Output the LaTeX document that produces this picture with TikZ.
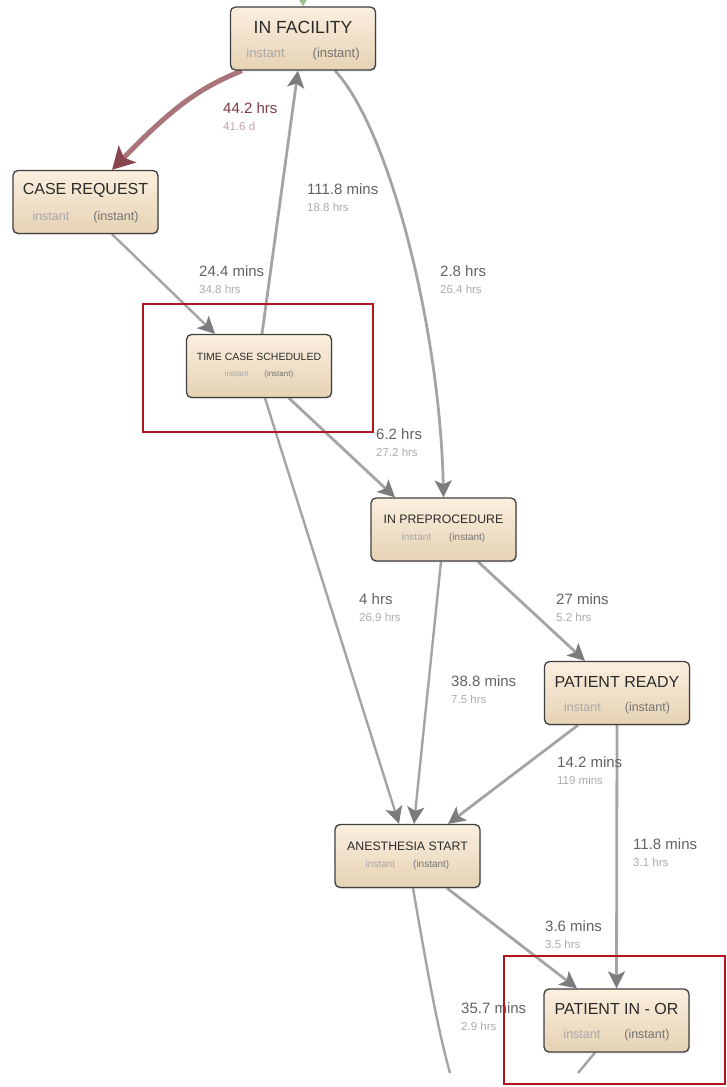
\documentclass[tikz,border=0pt]{standalone}
\usepackage{fontspec}
\setmainfont{Liberation Sans}
\usetikzlibrary{arrows.meta,shadows,backgrounds}
\definecolor{boxtop}{HTML}{FBEFDF}
\definecolor{boxbot}{HTML}{E6D2B4}
\definecolor{boxline}{HTML}{3F3F3F}
\definecolor{titlecol}{HTML}{2A2A2A}
\definecolor{subA}{HTML}{A8A8A8}
\definecolor{subB}{HTML}{747474}
\definecolor{edgegray}{HTML}{A4A4A4}
\definecolor{tipgray}{HTML}{7C7C7C}
\definecolor{redline}{HTML}{A9747A}
\definecolor{redtip}{HTML}{874650}
\definecolor{colmain}{HTML}{626262}
\definecolor{colsub}{HTML}{ABABAB}
\definecolor{colred}{HTML}{7B3B45}
\definecolor{colredsub}{HTML}{C6A2A8}
\definecolor{hilite}{HTML}{B3151D}
\definecolor{startgreen}{HTML}{9CC08A}
\newcommand{\stage}[5]{% name, position, title, size, gap
  \node[stagebox] (#1) at (#2) {};
  \node[#4 title] (#1-t) at (#1.center) {#3};
  \node[#4 sub] (#1-s) at (#1.center) {{\color{subA}instant}\hspace{#5}{\color{subB}(instant)}};
}
\newcommand{\edgelabel}[5]{% name, x, y, time, total
  \node[lbl] (#1) at (#2,#3) {#4};
  \node[lblsub] (#1s) at (#2,#3+18) {#5};
}

\begin{document}
\begin{tikzpicture}[x=1pt, y=-1pt,
    stagebox/.style={draw=boxline, line width=1.3pt, rounded corners=5pt,
      top color=boxtop, bottom color=boxbot, minimum width=145pt,
      minimum height=63pt, inner sep=0pt,
      drop shadow={shadow xshift=1pt, shadow yshift=-1.5pt, opacity=0.18}},
    top title/.style={font=\fontsize{17.6}{17.6}\selectfont, text=titlecol, yshift=11.5pt, inner sep=0pt},
    top sub/.style={font=\fontsize{13}{13}\selectfont, yshift=-16pt, inner sep=0pt},
    big title/.style={font=\fontsize{16}{16}\selectfont, text=titlecol, yshift=11.5pt, inner sep=0pt},
    big sub/.style={font=\fontsize{12.5}{12.5}\selectfont, yshift=-15pt, inner sep=0pt},
    mid title/.style={font=\fontsize{12.3}{12.3}\selectfont, text=titlecol, yshift=10pt, inner sep=0pt},
    mid sub/.style={font=\fontsize{10}{10}\selectfont, yshift=-8.5pt, inner sep=0pt},
    small title/.style={font=\fontsize{10.5}{10.5}\selectfont, text=titlecol, yshift=9.3pt, inner sep=0pt},
    small sub/.style={font=\fontsize{8}{8}\selectfont, yshift=-8pt, inner sep=0pt},
    lbl/.style={anchor=west, inner sep=0pt, text=colmain, font=\fontsize{15}{15}\selectfont},
    lblsub/.style={anchor=west, inner sep=0pt, text=colsub, font=\fontsize{11.5}{12}\selectfont},
    flow/.style={draw=edgegray, line width=2.8pt,
      -{Stealth[length=17pt, width=17pt, inset=4pt, color=tipgray]}},
    lightflow/.style={flow, line width=2.4pt},
    hot/.style={draw=redline, line width=5pt,
      -{Stealth[length=22pt, width=24pt, inset=5pt, color=redtip]}},
    hilitebox/.style={draw=hilite, line width=1.8pt}]
\clip (0,0) rectangle (726,1087);

% stages
\stage{fac}{303,38.5}{IN FACILITY}{top}{28pt}
\stage{req}{85.5,202}{CASE REQUEST}{big}{24pt}
\stage{sch}{259,366}{TIME CASE SCHEDULED}{small}{16pt}
\stage{pre}{443.5,529.5}{IN PREPROCEDURE}{mid}{18pt}
\stage{rdy}{617,693}{PATIENT READY}{big}{24pt}
\stage{ane}{407.5,856}{ANESTHESIA START}{mid}{18pt}
\stage{por}{616.5,1020.5}{PATIENT IN - OR}{big}{24pt}

\coordinate (inflow) at (303,-12);
\coordinate (offA) at (450,1073);
\coordinate (offB) at (578,1073);

% transitions
\begin{pgfonlayer}{background}
\draw[draw=startgreen, line width=2pt, -{Stealth[length=12pt, width=14pt, color=startgreen]}] (inflow) -- (fac.north);
\draw[hot] ([xshift=12pt]fac.south west) .. controls (200,88) and (175,105) .. ([xshift=26.5pt]req.north);
\draw[lightflow] ([xshift=26.5pt]req.south) -- ([xshift=-44pt]sch.north);
\draw[flow] ([xshift=3pt]sch.north) -- ([xshift=-5pt]fac.south);
\draw[flow] ([xshift=32pt]fac.south) .. controls (390,130) and (440,330) .. (pre.north);
\draw[flow] ([xshift=30pt]sch.south) -- ([xshift=-48.5pt]pre.north);
\draw[lightflow] ([xshift=6pt]sch.south) -- ([xshift=-8.5pt]ane.north);
\draw[lightflow] ([xshift=-2.5pt]pre.south) -- ([xshift=6.5pt]ane.north);
\draw[flow] ([xshift=34.5pt]pre.south) -- ([xshift=-32pt]rdy.north);
\draw[flow] ([xshift=-39pt]rdy.south) -- ([xshift=40.5pt]ane.north);
\draw[flow] (rdy.south) -- (por.north);
\draw[flow] ([xshift=39.5pt]ane.south) -- ([xshift=-39.5pt]por.north);
\draw[lightflow, -] ([xshift=5.5pt]ane.south) .. controls (428,975) and (438,1030) .. (offA);
\draw[lightflow, -] ([xshift=-21.5pt]por.south) -- (offB);
\end{pgfonlayer}

% times
\node[lbl, text=colred] (t1) at (223,108) {44.2 hrs};
\node[lblsub, text=colredsub] (t1s) at (223,126) {41.6 d};
\edgelabel{t2}{199}{271}{24.4 mins}{34.8 hrs}
\edgelabel{t3}{307}{189}{111.8 mins}{18.8 hrs}
\edgelabel{t4}{440}{271}{2.8 hrs}{26.4 hrs}
\edgelabel{t5}{376}{434}{6.2 hrs}{27.2 hrs}
\edgelabel{t6}{359}{599}{4 hrs}{26.9 hrs}
\edgelabel{t7}{451}{681}{38.8 mins}{7.5 hrs}
\edgelabel{t8}{556}{599}{27 mins}{5.2 hrs}
\edgelabel{t9}{557}{762}{14.2 mins}{119 mins}
\edgelabel{t10}{633}{844}{11.8 mins}{3.1 hrs}
\edgelabel{t11}{545}{926}{3.6 mins}{3.5 hrs}
\edgelabel{t12}{461}{1008}{35.7 mins}{2.9 hrs}

\draw[hilitebox] (143,304) rectangle (373,432);
\draw[hilitebox] (504,956) rectangle (725,1084);
\end{tikzpicture}
\end{document}
